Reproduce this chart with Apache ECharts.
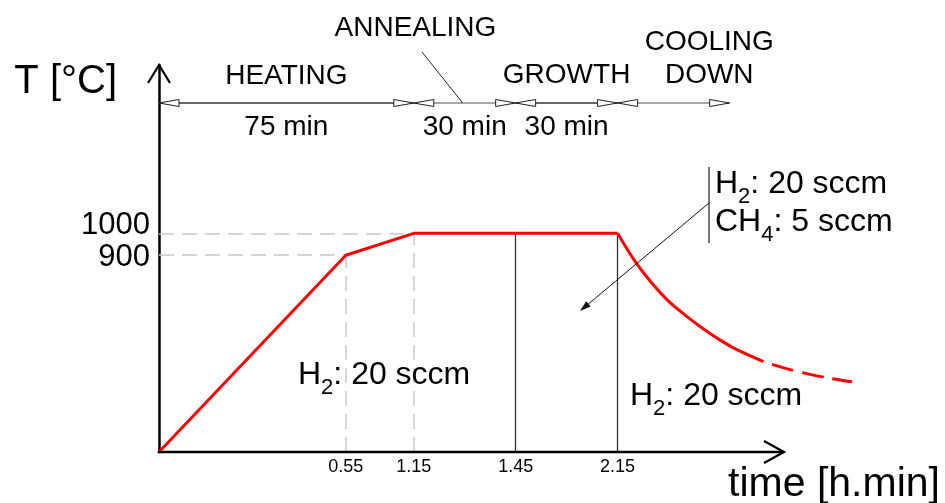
<!DOCTYPE html>
<html>
<head>
<meta charset="utf-8">
<script src="https://cdn.jsdelivr.net/npm/echarts@6/dist/echarts.min.js"></script>
<style>
  html, body { margin: 0; padding: 0; background: #fff; }
  #chart { width: 945px; height: 503px; }
</style>
</head>
<body>
<div id="chart"></div>
<script>
// Temperature programme of the process, time in minutes, temperature in °C
const rampTime = [0, 55, 75, 135];
const rampTemp = [0, 900, 1000, 1000];
const coolTime = [135, 140, 145, 150, 155, 160, 165, 170, 178];
const coolTemp = [1000, 875, 774, 690, 625, 566, 514, 469, 413];
const tailTime = [178, 185, 192, 198, 204];
const tailTemp = [413, 380, 354, 336, 321];

// Tick positions (minutes) shown as h.min, and the marked temperatures
const timeTicks = [55, 75, 105, 135];
const tempTicks = [900, 1000];

// Process phases along the top bar
const phaseNames = ['HEATING', 'ANNEALING', 'GROWTH', 'COOLING\nDOWN'];
const phaseMinutes = [75, 30, 30, 33];
const phaseDurations = ['75 min', '30 min', '30 min', ''];

const FONT = '"Liberation Sans", Arial, Helvetica, sans-serif';

// length of the drawn time axis (minutes); the plot area runs a bit further
const AXIS_END = 184;
const X_MAX = 210;

function hmin(v) {
  const h = Math.floor(v / 60);
  const m = v % 60;
  return h + '.' + (m < 10 ? '0' + m : m);
}

const pairs = (xs, ys) => xs.map((x, i) => [x, ys[i]]);

const dashedGrey = { color: '#c8c8c8', width: 1.5, type: [15, 8] };
const thinDark = { color: '#333', width: 1.3, type: 'solid' };

const chart = echarts.init(document.getElementById('chart'), null, { renderer: 'canvas' });

chart.setOption({
  animation: false,
  backgroundColor: '#fff',
  grid: { left: 159, right: 72.7, top: 65, bottom: 51 },
  xAxis: {
    type: 'value',
    min: 0,
    max: X_MAX,
    splitLine: { show: false },
    axisTick: { show: false },
    axisLine: { show: false },
    axisLabel: {
      customValues: timeTicks,
      formatter: v => hmin(v),
      fontFamily: FONT,
      fontSize: 18,
      color: '#000',
      margin: 6
    }
  },
  yAxis: {
    type: 'value',
    min: 0,
    max: 1770,
    splitLine: { show: false },
    axisTick: { show: false },
    axisLine: { onZero: false, lineStyle: { color: '#000', width: 2.5 } },
    axisLabel: {
      customValues: tempTicks,
      formatter: v => (v === 1000 ? '{hi|1000}' : '{lo|900}'),
      fontFamily: FONT,
      fontSize: 31,
      color: '#000',
      margin: 9,
      rich: {
        hi: { fontFamily: FONT, fontSize: 31, color: '#000', padding: [0, 0, 16, 0] },
        lo: { fontFamily: FONT, fontSize: 31, color: '#000', padding: [4, 0, 0, 0] }
      }
    },
    name: 'T [°C]',
    nameLocation: 'end',
    nameGap: -17,
    nameTextStyle: {
      fontFamily: FONT, fontSize: 40, color: '#000',
      align: 'right', verticalAlign: 'middle', padding: [0, 42, 0, 0]
    }
  },
  series: [
    {
      type: 'line',
      data: pairs(rampTime, rampTemp),
      symbol: 'none',
      z: 5,
      lineStyle: { color: '#ff0000', width: 3 },
      markLine: {
        silent: true,
        symbol: ['none', 'none'],
        label: { show: false },
        animation: false,
        z: 1,
        data: [
          [{ coord: [0, 900], lineStyle: dashedGrey }, { coord: [55, 900] }],
          [{ coord: [0, 1000], lineStyle: dashedGrey }, { coord: [75, 1000] }],
          [{ coord: [55, 0], lineStyle: dashedGrey }, { coord: [55, 900] }],
          [{ coord: [75, 0], lineStyle: dashedGrey }, { coord: [75, 1000] }],
          [{ coord: [105, 0], lineStyle: thinDark }, { coord: [105, 1000] }],
          [{ coord: [135, 0], lineStyle: thinDark }, { coord: [135, 1000] }]
        ]
      }
    },
    {
      type: 'line',
      data: pairs(coolTime, coolTemp),
      symbol: 'none',
      smooth: 0.3,
      z: 5,
      lineStyle: { color: '#ff0000', width: 3 }
    },
    {
      type: 'line',
      data: pairs(tailTime, tailTemp),
      symbol: 'none',
      smooth: 0.3,
      z: 5,
      lineStyle: { color: '#ff0000', width: 3, type: [22, 9], dashOffset: 22 }
    }
  ]
});

// Decorations: axis line and arrows, phase bar and gas-flow notes
function px(x, y) { return chart.convertToPixel({ gridIndex: 0 }, [x, y]); }

const g = [];
const origin = px(0, 0);
const xEnd = px(AXIS_END, 0);
const yEnd = px(0, 1770);

// time axis line with open arrow heads on both axes
g.push({ type: 'line', z: 20, shape: { x1: origin[0] - 1.2, y1: origin[1], x2: xEnd[0], y2: xEnd[1] },
  style: { stroke: '#000', lineWidth: 2.5 } });
g.push({ type: 'polyline', z: 20, shape: { points: [[xEnd[0] - 20, xEnd[1] - 11], [xEnd[0], xEnd[1]], [xEnd[0] - 20, xEnd[1] + 11]] },
  style: { stroke: '#000', lineWidth: 2.2, fill: null } });
g.push({ type: 'polyline', z: 20, shape: { points: [[yEnd[0] - 11, yEnd[1] + 18], [yEnd[0], yEnd[1]], [yEnd[0] + 11, yEnd[1] + 18]] },
  style: { stroke: '#000', lineWidth: 2.2, fill: null } });
g.push({ type: 'text', z: 20, x: xEnd[0] + 50, y: origin[1] + 33,
  style: { text: 'time [h.min]', fontFamily: FONT, fontSize: 41, fill: '#000', align: 'center', verticalAlign: 'middle' } });

// phase bar
const barY = 103;
const segColors = ['#333', '#888', '#333', '#888'];
let t0 = 0;
phaseMinutes.forEach((d, i) => {
  const xs = px(t0, 0)[0];
  const xe = px(t0 + d, 0)[0];
  g.push({ type: 'line', z: 10, shape: { x1: xs, y1: barY, x2: xe, y2: barY }, style: { stroke: segColors[i], lineWidth: 1.5 } });
  g.push({ type: 'polygon', z: 11, shape: { points: [[xs, barY], [xs + 20, barY - 3.5], [xs + 20, barY + 3.5]] },
    style: { fill: '#fff', stroke: '#222', lineWidth: 1 } });
  g.push({ type: 'polygon', z: 11, shape: { points: [[xe, barY], [xe - 20, barY - 3.5], [xe - 20, barY + 3.5]] },
    style: { fill: '#fff', stroke: '#222', lineWidth: 1 } });
  if (phaseDurations[i]) {
    g.push({ type: 'text', z: 12, x: px(t0 + d / 2, 0)[0], y: 127,
      style: { text: phaseDurations[i], fontFamily: FONT, fontSize: 28, fill: '#000', align: 'center', verticalAlign: 'middle' } });
  }
  t0 += d;
});

// phase names (minutes of the label centre, cap-centre height in px)
const nameSpots = [[37.5, 76], [75.5, 28], [120, 75], [162, 59]];
phaseNames.forEach((n, i) => {
  g.push({ type: 'text', z: 12, x: px(nameSpots[i][0], 0)[0], y: nameSpots[i][1],
    style: { text: n, fontFamily: FONT, fontSize: 28, lineHeight: 33, fill: '#000', align: 'center', verticalAlign: 'middle' } });
});
// leader from ANNEALING down to its segment
g.push({ type: 'line', z: 10, shape: { x1: 422, y1: 52, x2: px(90, 0)[0] - 2, y2: barY }, style: { stroke: '#222', lineWidth: 1 } });

// gas-flow notes with subscripts
const rich = {
  n: { fontFamily: FONT, fontSize: 32, lineHeight: 32, verticalAlign: 'top', fill: '#000' },
  s: { fontFamily: FONT, fontSize: 22, lineHeight: 22, verticalAlign: 'top', padding: [17, 0, 0, 0], fill: '#000' }
};
function note(x, baseline, text) {
  g.push({ type: 'text', z: 15, x: x, y: baseline - 25.5,
    style: { text: text, rich: rich, align: 'left', verticalAlign: 'top', fill: '#000' } });
}
note(298, 385, '{n|H}{s|2}{n|: 20 sccm}');
note(630, 406, '{n|H}{s|2}{n|: 20 sccm}');
note(715, 194, '{n|H}{s|2}{n|: 20 sccm}');
note(715, 232, '{n|CH}{s|4}{n|: 5 sccm}');

// bracket and pointer for the growth-gas note
g.push({ type: 'line', z: 10, shape: { x1: 709, y1: 167, x2: 709, y2: 243 }, style: { stroke: '#777', lineWidth: 2 } });
const a0 = [709, 203], a1 = [580, 311];
g.push({ type: 'line', z: 10, shape: { x1: a0[0], y1: a0[1], x2: a1[0] + 6, y2: a1[1] - 5 }, style: { stroke: '#111', lineWidth: 1 } });
(function () {
  const ang = Math.atan2(a1[1] - a0[1], a1[0] - a0[0]);
  const L = 11, W = 3.5;
  const bx = a1[0] - L * Math.cos(ang), by = a1[1] - L * Math.sin(ang);
  const nx = -Math.sin(ang) * W, ny = Math.cos(ang) * W;
  g.push({ type: 'polygon', z: 11, shape: { points: [a1, [bx + nx, by + ny], [bx - nx, by - ny]] }, style: { fill: '#111' } });
})();

chart.setOption({ graphic: g });
</script>
</body>
</html>
